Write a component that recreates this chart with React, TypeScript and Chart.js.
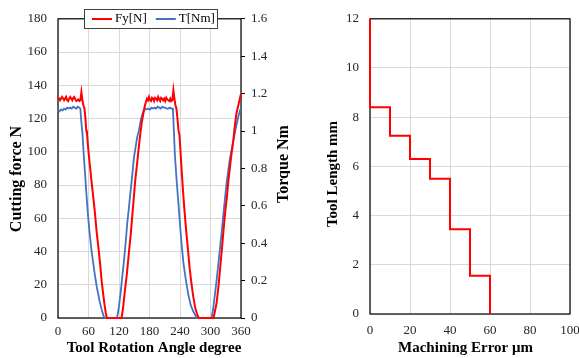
import React, { useEffect, useRef } from 'react';
import { Chart, registerables } from 'chart.js';

Chart.register(...registerables);

// ---------- Data: left chart (cutting force & torque vs rotation angle) ----------
const fyAngles = [
  0, 2, 4, 6, 8, 10, 12, 14, 16, 18, 20, 22, 24, 26, 28, 30, 32, 34, 36, 38, 40, 42, 44, 46, 48, 50, 52, 54, 55.5, 57,
  60, 63, 66, 70, 73, 76, 80, 83, 86, 89, 92, 94, 96, 125, 128, 130, 133, 136, 140, 143, 146, 149, 152, 156, 159, 162,
  165, 169, 172, 175, 177, 179, 181, 183, 185, 187, 189, 191, 193, 195, 197, 199, 201, 203, 205, 207, 209, 211, 213,
  215, 217, 219, 221, 223, 225, 227, 229, 231, 233, 235, 237, 239, 241, 243, 246, 249, 252, 256, 259, 262, 266, 270,
  274, 277, 306, 308, 312, 316, 319, 322, 326, 329, 332, 335, 338, 341, 345, 348, 351, 354, 357, 360,
];
const fyValues = [
  133, 132, 131, 132, 133, 132, 131, 132, 133, 131, 130.5, 132, 133, 132, 131, 132.5, 133, 131.5, 130.5, 131, 131.5, 130.5,
  131, 136, 131, 128, 126, 120, 113, 111, 100, 91, 82, 71, 62, 52, 41, 32, 22, 14, 7, 3, 0, 0, 6, 12, 20, 28, 41, 50, 61,
  72, 83, 94, 103, 111, 118, 125, 129, 132, 131, 133, 131, 130.5, 132.5, 132, 130.5, 132.5, 132, 131, 133, 131.5, 130.5,
  132.5, 132, 131, 132, 130.5, 132.5, 131.5, 131, 130.5, 132, 130.5, 131, 137, 132, 128, 126, 120, 113, 110, 100, 90, 76,
  64, 53, 40, 30, 22, 13, 6, 2, 0, 0, 3, 9, 20, 30, 40, 54, 64, 72, 82, 90, 98, 107, 116, 123, 127, 131, 135,
];

const torqueAngles = [
  0, 3, 6, 9, 12, 15, 18, 21, 24, 27, 30, 33, 36, 39, 42, 44, 45.5, 48, 50.5, 53, 56, 59, 62, 65.5, 69, 72, 76, 81.5, 86,
  91, 116, 119, 123, 126, 129.6, 133, 136, 139.5, 142.8, 146, 149, 153, 156, 159, 163, 166, 169, 172, 175, 178, 181, 184,
  187, 190, 193, 196, 199, 202, 205, 208, 211, 214, 217, 220, 223, 226, 227.5, 230, 233.5, 237, 240, 243, 246.5, 250,
  253, 256, 261, 266, 273, 302, 305, 308, 312, 317, 322, 327, 332, 338, 345, 350, 355, 358, 360,
];
const torqueValues = [
  1.11, 1.105, 1.115, 1.11, 1.12, 1.115, 1.125, 1.12, 1.125, 1.12, 1.13, 1.125, 1.12, 1.13, 1.125, 1.12, 1.06, 0.99,
  0.88, 0.78, 0.66, 0.55, 0.46, 0.37, 0.3, 0.24, 0.17, 0.094, 0.044, 0, 0, 0.044, 0.13, 0.21, 0.3, 0.4, 0.5, 0.59, 0.68,
  0.76, 0.85, 0.92, 0.97, 1.0, 1.06, 1.09, 1.11, 1.12, 1.115, 1.12, 1.115, 1.125, 1.12, 1.125, 1.12, 1.13, 1.125, 1.12,
  1.13, 1.125, 1.125, 1.12, 1.12, 1.125, 1.12, 1.12, 1.03, 0.87, 0.73, 0.61, 0.5, 0.4, 0.3, 0.23, 0.18, 0.13, 0.07,
  0.036, 0, 0, 0.044, 0.11, 0.2, 0.33, 0.46, 0.6, 0.73, 0.85, 0.95, 1.02, 1.08, 1.11, 1.12,
];

const seriesLabels = ['Fy[N]', 'T[Nm]'];

// ---------- Data: right chart (tool length vs machining error) ----------
const machiningError = [0, 0, 10, 20, 30, 40, 50, 60];
const toolLength = [12, 8.4, 7.25, 6.3, 5.5, 3.45, 1.55, 0];

const SERIF = '"Liberation Serif", "Times New Roman", serif';
const TICK_FONT = { family: SERIF, size: 13 };
const TICK_COLOR = '#262626';
const GRID_COLOR = '#d9d9d9';

const plainNumber = (v: any) => String(Number(Number(v).toFixed(2)));

const framePlugin = {
  id: 'frame',
  beforeDatasetsDraw(chart: any) {
    const { ctx, chartArea } = chart;
    ctx.save();
    ctx.strokeStyle = '#000';
    ctx.lineWidth = 1.2;
    ctx.strokeRect(chartArea.left, chartArea.top, chartArea.right - chartArea.left, chartArea.bottom - chartArea.top);
    ctx.restore();
  },
};

const titlesPlugin = {
  id: 'titles',
  afterDraw(chart: any, _args: any, opts: any) {
    const { ctx } = chart;
    (opts.items || []).forEach((it: any) => {
      ctx.save();
      ctx.font = `bold ${it.size || 15}px ${SERIF}`;
      ctx.fillStyle = '#000';
      ctx.textAlign = 'center';
      ctx.textBaseline = 'middle';
      ctx.translate(it.x, it.y);
      if (it.rotate) ctx.rotate(-Math.PI / 2);
      ctx.fillText(it.text, 0, 0);
      ctx.restore();
    });
  },
};

const boxLegendPlugin = {
  id: 'boxLegend',
  afterDraw(chart: any, _args: any, opts: any) {
    if (!opts || !opts.show) return;
    const { ctx } = chart;
    const { x, y, w, h } = opts;
    ctx.save();
    ctx.fillStyle = '#fff';
    ctx.fillRect(x, y, w, h);
    ctx.strokeStyle = '#404040';
    ctx.lineWidth = 1;
    ctx.strokeRect(x + 0.5, y + 0.5, w, h);
    ctx.font = `13px ${SERIF}`;
    ctx.textBaseline = 'middle';
    ctx.textAlign = 'left';
    let cx = x + 8;
    const cy = y + h / 2 + 0.5;
    chart.data.datasets.forEach((ds: any) => {
      ctx.strokeStyle = ds.borderColor;
      ctx.lineWidth = 2;
      ctx.beginPath();
      ctx.moveTo(cx, cy);
      ctx.lineTo(cx + 20, cy);
      ctx.stroke();
      ctx.fillStyle = '#000';
      ctx.fillText(ds.label, cx + 23, cy);
      cx += 23 + ctx.measureText(ds.label).width + 9;
    });
    ctx.restore();
  },
};

function LeftChart() {
  const ref = useRef<HTMLCanvasElement>(null);
  useEffect(() => {
    const chart = new Chart(ref.current as HTMLCanvasElement, {
      type: 'line',
      data: {
        datasets: [
          {
            label: seriesLabels[0],
            data: fyAngles.map((a, i) => ({ x: a, y: fyValues[i] })),
            borderColor: '#ff0000',
            borderWidth: 2,
            pointRadius: 0,
            yAxisID: 'y',
            clip: false as any,
          },
          {
            label: seriesLabels[1],
            data: torqueAngles.map((a, i) => ({ x: a, y: torqueValues[i] })),
            borderColor: '#4472c4',
            borderWidth: 1.8,
            pointRadius: 0,
            yAxisID: 'y1',
            clip: false as any,
          },
        ],
      },
      options: {
        animation: false,
        responsive: false,
        layout: { padding: { top: 14, left: 0, right: 0, bottom: 0 } },
        plugins: {
          legend: { display: false },
          tooltip: { enabled: false },
          boxLegend: { show: true, x: 84, y: 9, w: 133, h: 19 },
          titles: {
            items: [
              { text: 'Tool Rotation Angle degree', x: 154, y: 348 },
              { text: 'Cutting force N', x: 17, y: 179, rotate: true, size: 16 },
              { text: 'Torque Nm', x: 284, y: 164, rotate: true, size: 16 },
            ],
          },
        } as any,
        scales: {
          x: {
            type: 'linear',
            min: 0,
            max: 360,
            ticks: { stepSize: 60, padding: 6, font: TICK_FONT, color: TICK_COLOR, maxRotation: 0 },
            grid: { color: GRID_COLOR, drawTicks: false },
            border: { display: false },
            afterFit: (s: any) => {
              s.height = 40;
            },
          },
          y: {
            min: 0,
            max: 180,
            ticks: { stepSize: 20, padding: 11, font: TICK_FONT, color: TICK_COLOR },
            grid: { color: GRID_COLOR, drawTicks: false },
            border: { display: false },
            afterFit: (s: any) => {
              s.width = 58;
            },
          },
          y1: {
            position: 'right',
            min: 0,
            max: 1.6,
            ticks: { stepSize: 0.2, padding: 6, font: TICK_FONT, color: TICK_COLOR, callback: plainNumber },
            grid: { drawOnChartArea: false, drawTicks: true, tickLength: 4, color: '#000' },
            border: { display: false },
            afterFit: (s: any) => {
              s.width = 49;
            },
          },
        },
      },
      plugins: [framePlugin, titlesPlugin, boxLegendPlugin],
    });
    return () => chart.destroy();
  }, []);
  return <canvas ref={ref} width={290} height={358} style={{ width: 290, height: 358, display: 'block' }} />;
}

function RightChart() {
  const ref = useRef<HTMLCanvasElement>(null);
  useEffect(() => {
    const chart = new Chart(ref.current as HTMLCanvasElement, {
      type: 'line',
      data: {
        datasets: [
          {
            label: 'Tool Length',
            data: machiningError.map((e, i) => ({ x: e, y: toolLength[i] })),
            borderColor: '#ff0000',
            borderWidth: 2,
            pointRadius: 0,
            stepped: 'before',
            clip: false as any,
          },
        ],
      },
      options: {
        animation: false,
        responsive: false,
        layout: { padding: { top: 14, left: 0, right: 30, bottom: 0 } },
        plugins: {
          legend: { display: false },
          tooltip: { enabled: false },
          titles: {
            items: [
              { text: 'Machining Error μm', x: 175.5, y: 348 },
              { text: 'Tool Length mm', x: 43, y: 174, rotate: true },
            ],
          },
        } as any,
        scales: {
          x: {
            type: 'linear',
            min: 0,
            max: 100,
            ticks: { stepSize: 20, padding: 9, font: TICK_FONT, color: TICK_COLOR, maxRotation: 0 },
            grid: { color: GRID_COLOR, drawTicks: false },
            border: { display: false },
            afterFit: (s: any) => {
              s.height = 44;
            },
          },
          y: {
            min: 0,
            max: 12,
            ticks: { stepSize: 2, padding: 11, font: TICK_FONT, color: TICK_COLOR },
            grid: { color: GRID_COLOR, drawTicks: false },
            border: { display: false },
            afterFit: (s: any) => {
              s.width = 80;
            },
          },
        },
      },
      plugins: [framePlugin, titlesPlugin],
    });
    return () => chart.destroy();
  }, []);
  return <canvas ref={ref} width={310} height={358} style={{ width: 310, height: 358, display: 'block' }} />;
}

export default function App() {
  return (
    <div
      style={{
        position: 'absolute',
        left: 0,
        top: 0,
        width: 579,
        height: 358,
        overflow: 'hidden',
        background: '#fff',
      }}
    >
      <div style={{ position: 'absolute', left: 0, top: 0, width: 290, height: 358, overflow: 'hidden' }}>
        <LeftChart />
      </div>
      <div style={{ position: 'absolute', left: 290, top: 0, width: 289, height: 358, overflow: 'hidden' }}>
        <RightChart />
      </div>
    </div>
  );
}
